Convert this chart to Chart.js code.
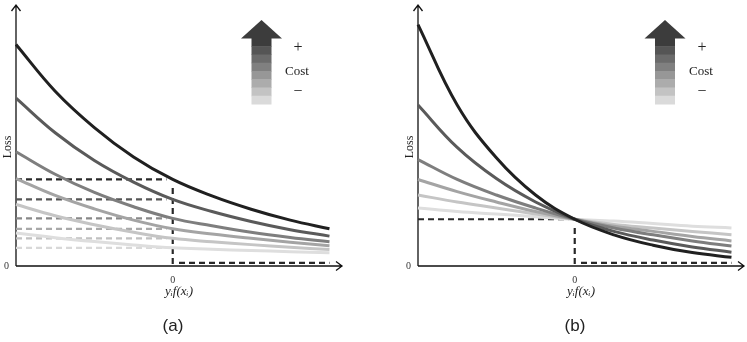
<!DOCTYPE html>
<html>
<head>
<meta charset="utf-8">
<script src="https://cdn.jsdelivr.net/npm/chart.js@4.4.1/dist/chart.umd.min.js"></script>
<style>
  body { margin: 0; background: #fff; width: 747px; height: 342px; overflow: hidden; position: relative; font-family: "Liberation Serif", serif; }
  .panel { position: absolute; top: 0; width: 345px; height: 342px; }
  .cap { position: absolute; top: 316px; width: 40px; margin-left: -20px; text-align: center; font: 17px "Liberation Sans", Arial, sans-serif; color: #222; }
  .lg { position: absolute; transform: translate(-50%, -50%); font-size: 13px; color: #222; white-space: nowrap; }
  .lg.sym { font-size: 16px; }
</style>
</head>
<body>
<canvas id="chartA" class="panel" width="345" height="342" style="left:0"></canvas>
<canvas id="chartB" class="panel" width="345" height="342" style="left:402px"></canvas>

<div class="lg sym" style="left:298px;top:47px">+</div>
<div class="lg" style="left:297px;top:71px">Cost</div>
<div class="lg sym" style="left:298px;top:91px">&minus;</div>
<div class="lg sym" style="left:702px;top:47px">+</div>
<div class="lg" style="left:701px;top:71px">Cost</div>
<div class="lg sym" style="left:702px;top:91px">&minus;</div>

<div class="cap" style="left:173px">(a)</div>
<div class="cap" style="left:575px">(b)</div>

<script>
// margin values y_i f(x_i)
const xs = [-1, -0.75, -0.5, -0.25, 0, 0.25, 0.5, 0.75, 1];

// (a) loss curves, highest cost first
const a1 = [2.56, 2.02, 1.60, 1.26, 1.00, 0.81, 0.656, 0.53, 0.43];
const a2 = [1.94, 1.54, 1.22, 0.97, 0.77, 0.63, 0.515, 0.42, 0.345];
const a3 = [1.32, 1.06, 0.85, 0.685, 0.55, 0.465, 0.39, 0.33, 0.28];
const a4 = [1.01, 0.815, 0.66, 0.53, 0.43, 0.37, 0.32, 0.275, 0.235];
const a5 = [0.71, 0.58, 0.477, 0.39, 0.32, 0.28, 0.247, 0.217, 0.19];
const a6 = [0.38, 0.327, 0.282, 0.243, 0.21, 0.194, 0.179, 0.166, 0.153];
const levelsA = [1.00, 0.77, 0.55, 0.43, 0.32, 0.21];
const dropA = 0.90;

// (b) loss curves, all meeting at the same point at 0
const b1 = [2.79, 1.86, 1.25, 0.82, 0.54, 0.36, 0.24, 0.155, 0.10];
const b2 = [1.86, 1.37, 1.01, 0.74, 0.54, 0.40, 0.30, 0.22, 0.16];
const b3 = [1.23, 1.00, 0.82, 0.67, 0.54, 0.44, 0.36, 0.29, 0.23];
const b4 = [1.00, 0.86, 0.74, 0.63, 0.54, 0.46, 0.40, 0.34, 0.29];
const b5 = [0.82, 0.74, 0.67, 0.60, 0.54, 0.48, 0.44, 0.40, 0.36];
const b6 = [0.67, 0.63, 0.60, 0.57, 0.54, 0.52, 0.49, 0.46, 0.44];
const levelB = 0.54;
const dropB = 0.44;

const zeroLoss = 0.035; // the 0-1 loss drawn just above the axis
const yTop = 2.75;

const curveGreys = ['#202020', '#5a5a5a', '#7e7e7e', '#a4a4a4', '#c5c5c5', '#dedede'];
const dashGreys = ['#282828', '#555555', '#888888', '#a8a8a8', '#c0c0c0', '#d8d8d8'];
const costSteps = ['#3c3c3c', '#555555', '#6b6b6b', '#808080', '#979797', '#acacac', '#c3c3c3', '#dadada'];

const pts = arr => xs.map((x, i) => ({ x: x, y: arr[i] }));

function curve(arr, i) {
    return { data: pts(arr), borderColor: curveGreys[i], borderWidth: 3, tension: 0.4, clip: false };
}
function dashed(data, color) {
    return { data: data, borderColor: color, borderWidth: 2.2, borderDash: [6, 4], clip: false };
}

// axes with open arrow heads + the cost legend arrow
const decor = {
    id: 'decor',
    beforeDatasetsDraw(chart) {
        const c = chart.ctx, xa = chart.scales.x, ya = chart.scales.y;
        const x0 = xa.getPixelForValue(-1), y0 = ya.getPixelForValue(0);
        const xEnd = chart.chartArea.right, yEnd = 5;
        c.save();
        c.strokeStyle = '#111';
        c.lineWidth = 1.3;
        c.beginPath();
        c.moveTo(x0, y0); c.lineTo(xEnd, y0);
        c.moveTo(x0, y0); c.lineTo(x0, yEnd);
        c.moveTo(xEnd - 6, y0 - 4.5); c.lineTo(xEnd, y0); c.lineTo(xEnd - 6, y0 + 4.5);
        c.moveTo(x0 - 4.5, yEnd + 6); c.lineTo(x0, yEnd); c.lineTo(x0 + 4.5, yEnd + 6);
        c.stroke();
        c.restore();
    },
    afterDraw(chart, args, opts) {
        const c = chart.ctx, cx = opts.cx;
        const shaftTop = 38, shaftBot = 104, step = (shaftBot - shaftTop) / costSteps.length;
        c.save();
        costSteps.forEach((col, i) => {
            c.fillStyle = col;
            c.fillRect(cx - 10, shaftTop + i * step, 20, step + 0.5);
        });
        c.fillStyle = costSteps[0];
        c.beginPath();
        c.moveTo(cx, 20); c.lineTo(cx + 20.5, 38.5); c.lineTo(cx - 20.5, 38.5); c.closePath();
        c.fill();
        c.restore();
    }
};

function makeChart(id, datasets, arrowX) {
    return new Chart(document.getElementById(id), {
        type: 'line',
        data: { datasets: datasets },
        plugins: [decor],
        options: {
            responsive: false,
            animation: false,
            layout: { padding: { top: 28, right: 3, left: 0, bottom: 0 } },
            elements: { point: { radius: 0 } },
            plugins: { legend: { display: false }, tooltip: { enabled: false }, decor: { cx: arrowX } },
            scales: {
                x: {
                    type: 'linear', min: -1, max: 1.08,
                    grid: { display: false, drawTicks: false }, border: { display: false },
                    afterBuildTicks: s => { s.ticks = [{ value: 0 }]; },
                    afterFit: s => { s.height = 76; },
                    ticks: { color: '#333', padding: 8, maxRotation: 0, font: { family: 'Liberation Serif', size: 10 } },
                    title: { display: true, text: 'yᵢf(xᵢ)', color: '#222', padding: { bottom: 43 },
                             font: { family: 'Liberation Serif', size: 13, style: 'italic' } }
                },
                y: {
                    min: 0, max: yTop,
                    grid: { display: false, drawTicks: false }, border: { display: false },
                    afterBuildTicks: s => { s.ticks = [{ value: 0 }]; },
                    afterFit: s => { s.width = 16; },
                    ticks: { color: '#333', padding: 7, font: { family: 'Liberation Serif', size: 10 } },
                    title: { display: true, text: 'Loss', color: '#222', padding: { top: 1 },
                             font: { family: 'Liberation Serif', size: 12 } }
                }
            }
        }
    });
}

// panel (a)
const curvesA = [a1, a2, a3, a4, a5, a6];
const setsA = [];
curvesA.forEach((arr, i) => setsA.push(curve(arr, i)));
levelsA.forEach((lv, i) => setsA.push(dashed([{ x: -1, y: lv }, { x: -0.04, y: lv }], dashGreys[i])));
setsA.push(dashed([{ x: 0, y: dropA }, { x: 0, y: 0 }], dashGreys[0]));
setsA.push(dashed([{ x: 0.04, y: zeroLoss }, { x: 1, y: zeroLoss }], dashGreys[0]));
makeChart('chartA', setsA, 261.5);

// panel (b)
const curvesB = [b1, b2, b3, b4, b5, b6];
const setsB = [];
curvesB.forEach((arr, i) => setsB.push(curve(arr, i)));
setsB.push(dashed([{ x: -1, y: levelB }, { x: -0.04, y: levelB }], dashGreys[0]));
setsB.push(dashed([{ x: 0, y: dropB }, { x: 0, y: 0 }], dashGreys[0]));
setsB.push(dashed([{ x: 0.04, y: zeroLoss }, { x: 1, y: zeroLoss }], dashGreys[0]));
makeChart('chartB', setsB, 263);
</script>
</body>
</html>
